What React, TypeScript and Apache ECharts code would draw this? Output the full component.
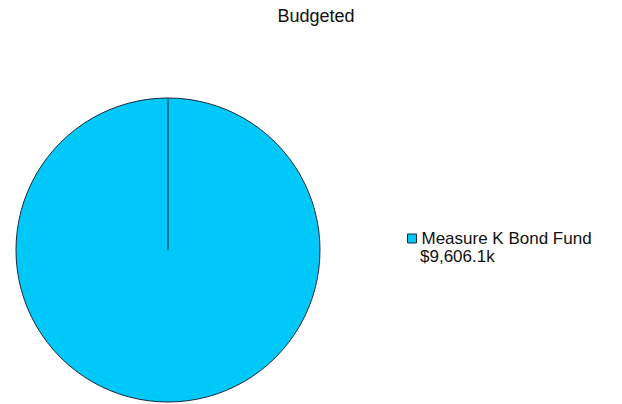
import React, { useEffect, useRef } from "react";
import * as echarts from "echarts";

const titleText = "Budgeted";
const categories = ["Measure K Bond Fund"];
const values = [9606.1];
const valueLabels = ["$9,606.1k"];

export default function App() {
  const ref = useRef<HTMLDivElement>(null);
  useEffect(() => {
    const chart = echarts.init(ref.current!, null, { renderer: "svg" });
    const cx = 168, cy = 250, r = 152;
    chart.setOption({
      animation: false,
      backgroundColor: "#ffffff",
      title: {
        text: titleText,
        left: 311,
        textAlign: "center",
        top: 2,
        textStyle: { fontFamily: "Liberation Sans", fontSize: 18, fontWeight: "normal", color: "#111" },
      },
      legend: {
        orient: "vertical",
        left: 402,
        top: 225,
        itemWidth: 9,
        itemHeight: 9,
        itemGap: 8,
        icon: "rect",
        data: categories,
        textStyle: { fontFamily: "Liberation Sans", fontSize: 17, color: "#111" },
        itemStyle: { borderColor: "#1a2a3a", borderWidth: 1 },
      },
      graphic: [
        {
          type: "text",
          left: 420,
          top: 248,
          style: { text: valueLabels[0], fontFamily: "Liberation Sans", fontSize: 17, fill: "#111" },
        },
        {
          type: "line",
          shape: { x1: cx, y1: cy, x2: cx, y2: cy - r },
          style: { stroke: "#1a2a3a", lineWidth: 1 },
          z: 10,
        },
      ],
      series: [
        {
          type: "pie",
          center: [cx, cy],
          radius: [0, r],
          startAngle: 90,
          label: { show: false },
          labelLine: { show: false },
          emphasis: { disabled: true },
          itemStyle: { color: "#00C8F8", borderColor: "#1a2a3a", borderWidth: 1 },
          data: categories.map((c, i) => ({ name: c, value: values[i] })),
        },
      ],
    });
    return () => chart.dispose();
  }, []);
  return <div ref={ref} style={{ position: "fixed", left: 0, top: 0, width: 622, height: 404 }} />;
}
